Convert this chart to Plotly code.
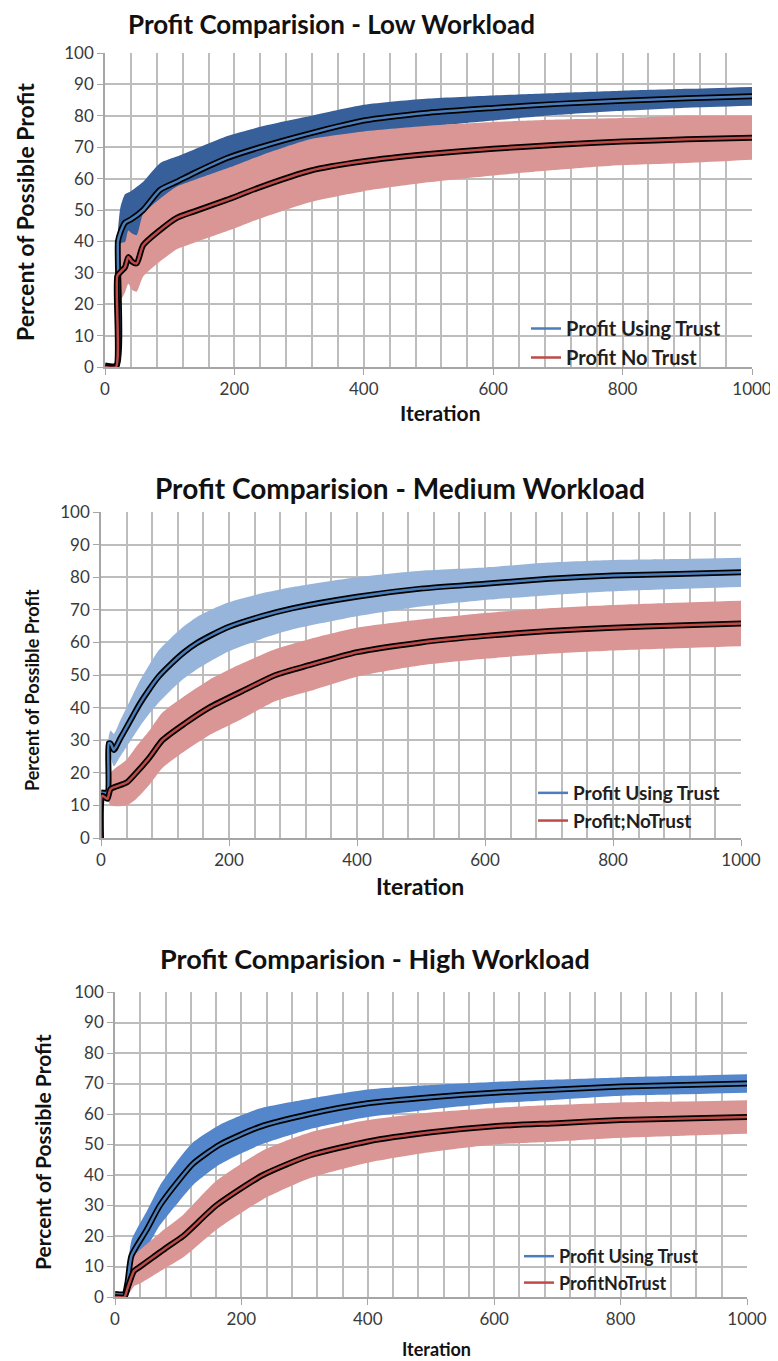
import plotly.graph_objects as go

# page body has an 8px margin, so the figure is shrunk by that much and
# reference pixel positions are shifted back by OFF
OFF = 8
W, H = 778 - OFF, 1361 - OFF

# ---- Low workload ----
LOW_TRUST_ITER = [0, 18, 20, 24, 31, 40, 59, 85, 111, 137, 188, 240, 317, 400, 500, 600, 700, 800, 900, 1000]
LOW_TRUST = [0.5, 0.5, 40, 43, 46, 47, 50, 56.4, 59, 61.7, 66.5, 70, 74.4, 78.5, 81, 82.5, 83.8, 84.8, 85.6, 86.2]
LOW_TRUST_ERR = [0, 0, 3, 8, 9, 9, 9, 8.5, 8, 7.5, 7, 6.5, 5.5, 5, 4.5, 4, 3.5, 3.2, 3, 3]
LOW_NOTRUST_ITER = [0, 17, 19, 25, 31, 36, 42, 49, 59, 85, 111, 137, 188, 240, 317, 400, 500, 600, 700, 800, 900, 1000]
LOW_NOTRUST = [0, 0, 29, 30.5, 31.8, 35, 33.5, 33, 38.8, 43.6, 47.5, 49.5, 53.2, 57.3, 62.5, 65.5, 67.8, 69.5, 70.8, 71.8, 72.5, 73]
LOW_NOTRUST_ERR = [0, 0, 9, 9, 8, 8.5, 9, 9, 10, 10, 10, 10, 10, 10, 10, 9.5, 9, 8.5, 8, 7.5, 7.5, 7]

# ---- Medium workload ----
MED_TRUST_ITER = [0, 10, 12, 15, 20, 30, 40, 50, 60, 75, 90, 110, 130, 150, 175, 200, 250, 300, 400, 500, 600, 700, 800, 900, 1000]
MED_TRUST = [14, 14, 29, 29, 27, 30.5, 34, 37.5, 41, 45.5, 49.5, 53.5, 57, 59.8, 62.5, 64.8, 68, 70.5, 74, 76.5, 78, 79.5, 80.5, 81, 81.5]
MED_TRUST_ERR = [0, 0, 2, 4, 5, 5.5, 6, 6.5, 7, 7.5, 8, 8, 8, 8, 7.8, 7.5, 7, 6.5, 6, 5.5, 5, 5, 4.8, 4.6, 4.5]
MED_NOTRUST_ITER = [0, 2, 10, 15, 40, 55, 75, 96, 130, 169, 220, 273, 325, 400, 500, 600, 700, 800, 900, 1000]
MED_NOTRUST = [0, 13, 12, 15, 17, 20, 24.5, 30, 35, 40, 45, 50, 53, 57, 60, 62, 63.5, 64.5, 65.2, 65.8]
MED_NOTRUST_ERR = [0, 0, 0, 5, 7, 8, 8.3, 8.5, 8.5, 8.5, 8.5, 8, 8, 7.5, 7, 7, 7, 7, 7, 7]

# ---- High workload ----
HIGH_TRUST_ITER = [0, 15, 20, 26, 50, 71, 100, 124, 166, 229, 308, 400, 500, 600, 700, 800, 900, 1000]
HIGH_TRUST = [1, 1, 5, 13.5, 22, 30, 38, 43.8, 50, 55.8, 60, 63.5, 65.5, 67, 68, 69, 69.5, 70]
HIGH_TRUST_ERR = [0, 0, 4, 5, 6, 6.5, 7, 7, 6.5, 6, 5, 4.5, 4, 3.5, 3.3, 3, 3, 3]
HIGH_NOTRUST_ITER = [0, 15, 20, 25, 30, 40, 60, 80, 108, 160, 234, 308, 400, 500, 600, 700, 800, 900, 1000]
HIGH_NOTRUST = [0, 0, 3, 6, 8.5, 10, 13, 16, 20, 30, 40, 46.4, 51, 54, 56, 57, 58, 58.5, 59]
HIGH_NOTRUST_ERR = [0, 0, 2, 4, 5, 5.5, 6, 6.5, 7, 8, 8, 7.5, 7, 6.5, 6, 6, 5.8, 5.6, 5.5]

Y_TICKS = [0, 10, 20, 30, 40, 50, 60, 70, 80, 90, 100]
X_TICKS = [0, 200, 400, 600, 800, 1000]

FONT = "Lato"
BLUE = "#4A7EBB"
RED = "#BE4B48"
PINK = "#DA9694"
GRID = "#BDBDBD"


def px_x(x):
    return (x - OFF) / W


def px_y(y):
    return 1 - (y - OFF) / H


panels = [
    dict(title="Profit Comparision - Low Workload", title_pos=(331, 24), title_size=26,
         box=(105, 752, 53, 367), band="#37609A",
         trust=(LOW_TRUST_ITER, LOW_TRUST, LOW_TRUST_ERR),
         notrust=(LOW_NOTRUST_ITER, LOW_NOTRUST, LOW_NOTRUST_ERR),
         names=("Profit Using Trust", "Profit No Trust"), legend_pos=(526, 309), legend_size=20,
         ylab_pos=(25, 212), ylab_size=23, xlab_pos=(440, 412), xlab_size=21),
    dict(title="Profit Comparision - Medium Workload", title_pos=(400, 488), title_size=28,
         box=(101, 741, 512, 838), band="#97B5DA",
         trust=(MED_TRUST_ITER, MED_TRUST, MED_TRUST_ERR),
         notrust=(MED_NOTRUST_ITER, MED_NOTRUST, MED_NOTRUST_ERR),
         names=("Profit Using Trust", "Profit;NoTrust"), legend_pos=(533, 774), legend_size=19,
         ylab_pos=(32, 690), ylab_size=18, xlab_pos=(420, 886), xlab_size=23),
    dict(title="Profit Comparision - High Workload", title_pos=(375, 958), title_size=27,
         box=(115, 747, 992, 1297), band="#5486CC",
         trust=(HIGH_TRUST_ITER, HIGH_TRUST, HIGH_TRUST_ERR),
         notrust=(HIGH_NOTRUST_ITER, HIGH_NOTRUST, HIGH_NOTRUST_ERR),
         names=("Profit Using Trust", "ProfitNoTrust"), legend_pos=(519, 1238), legend_size=18,
         ylab_pos=(42, 1152), ylab_size=21, xlab_pos=(436, 1349), xlab_size=18),
]

fig = go.Figure()
annotations = []
layout = {}
SMOOTH = dict(shape="spline", smoothing=0.6)

for i, p in enumerate(panels):
    n = "" if i == 0 else str(i + 1)
    xa, ya = "x" + n, "y" + n
    leg = "legend" + n

    # error bands (trust first, no-trust drawn on top of it)
    for (it, mean, err), col in [(p["trust"], p["band"]), (p["notrust"], PINK)]:
        lo = [m - e for m, e in zip(mean, err)]
        hi = [m + e for m, e in zip(mean, err)]
        fig.add_trace(go.Scatter(x=it, y=lo, mode="lines", line=dict(width=0, color=col, **SMOOTH),
                                 showlegend=False, hoverinfo="skip", xaxis=xa, yaxis=ya))
        fig.add_trace(go.Scatter(x=it, y=hi, mode="lines", line=dict(width=0, color=col, **SMOOTH),
                                 fill="tonexty", fillcolor=col, showlegend=False,
                                 hoverinfo="skip", xaxis=xa, yaxis=ya))

    # mean lines with black outline
    for (it, mean, _), col, name in [(p["trust"], BLUE, p["names"][0]),
                                     (p["notrust"], RED, p["names"][1])]:
        fig.add_trace(go.Scatter(x=it, y=mean, mode="lines",
                                 line=dict(width=6, color="black", **SMOOTH),
                                 showlegend=False, xaxis=xa, yaxis=ya))
        fig.add_trace(go.Scatter(x=it, y=mean, mode="lines",
                                 line=dict(width=2.5, color=col, **SMOOTH),
                                 name=name, legend=leg, xaxis=xa, yaxis=ya))

    x0, x1, y0, y1 = p["box"]
    tick_font = dict(family=FONT, size=17, color="#3A3A3A")
    layout["xaxis" + n] = dict(
        domain=[px_x(x0), px_x(x1)], anchor=ya, range=[0, 1000], automargin=False,
        tickvals=X_TICKS, showgrid=True, gridcolor=GRID, gridwidth=1.5,
        minor=dict(dtick=40, showgrid=True, gridcolor=GRID, gridwidth=1.5),
        showline=True, linecolor="#A6A6A6", linewidth=1.5,
        ticks="outside", ticklen=6, tickcolor="#A6A6A6", tickfont=tick_font, zeroline=False,
    )
    layout["yaxis" + n] = dict(
        domain=[px_y(y1), px_y(y0)], anchor=xa, range=[0, 100], automargin=False,
        tickvals=Y_TICKS, showgrid=True, gridcolor=GRID, gridwidth=1.5,
        showline=True, linecolor="#A6A6A6", linewidth=1.5,
        ticks="outside", ticklen=6, tickcolor="#A6A6A6", tickfont=tick_font, zeroline=False,
    )
    lx, ly = p["legend_pos"]
    layout[leg] = dict(x=px_x(lx), y=px_y(ly), xanchor="left", yanchor="top",
                       traceorder="normal", bgcolor="rgba(0,0,0,0)", tracegroupgap=0,
                       font=dict(family=FONT, size=p["legend_size"], color="#1F1F1F", weight="bold"))

    tx, ty = p["title_pos"]
    annotations.append(dict(text="<b>" + p["title"] + "</b>", x=px_x(tx), y=px_y(ty),
                            xref="paper", yref="paper", showarrow=False,
                            xanchor="center", yanchor="middle",
                            font=dict(family=FONT, size=p["title_size"], color="#111")))
    yx, yy = p["ylab_pos"]
    annotations.append(dict(text="<b>Percent of Possible Profit</b>", x=px_x(yx), y=px_y(yy),
                            xref="paper", yref="paper", showarrow=False, textangle=-90,
                            xanchor="center", yanchor="middle",
                            font=dict(family=FONT, size=p["ylab_size"], color="#111")))
    ix, iy = p["xlab_pos"]
    annotations.append(dict(text="<b>Iteration</b>", x=px_x(ix), y=px_y(iy),
                            xref="paper", yref="paper", showarrow=False,
                            xanchor="center", yanchor="middle",
                            font=dict(family=FONT, size=p["xlab_size"], color="#111")))

fig.update_layout(
    width=W, height=H, autosize=False,
    margin=dict(l=0, r=0, t=0, b=0, pad=0),
    paper_bgcolor="white", plot_bgcolor="white",
    annotations=annotations,
    **layout,
)

fig.write_html("out.html")
